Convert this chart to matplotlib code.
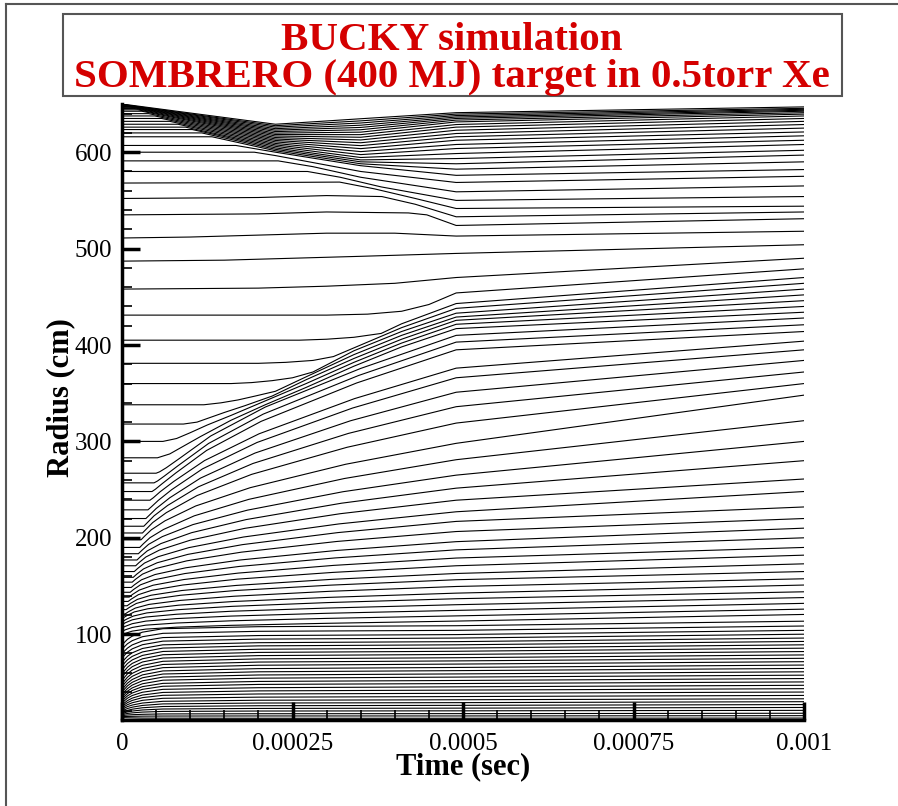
import matplotlib
matplotlib.use("Agg")
import matplotlib.pyplot as plt
from matplotlib.ticker import MultipleLocator, FixedLocator
from matplotlib.patches import Rectangle
from matplotlib.lines import Line2D

plt.rcParams['font.family'] = ['Liberation Serif', 'DejaVu Serif']

US = 1e-6  # times below are in microseconds, radii in cm

# inner zones (target debris and gas right next to it), shared sample times
core_t = [0, 3, 8, 15, 30, 60, 200, 490, 1000]
core_r = [
    [13.5, 13.4, 13.3, 13.2, 13, 12.9, 12.8, 12.8, 13],
    [14.5, 14.6, 14.7, 14.8, 15, 15.1, 15.2, 15.2, 15.5],
    [15.5, 15.8, 16.2, 16.5, 16.9, 17.3, 17.5, 17.6, 18],
    [16.5, 17.1, 17.8, 18.4, 19.2, 19.9, 20.3, 20.5, 21],
    [17.5, 18.4, 19.4, 20.3, 21.4, 22.4, 23, 23.3, 24],
    [18.5, 19.7, 21, 22.2, 23.7, 25, 25.8, 26.2, 27],
    [20, 21.4, 22.9, 24.3, 26.1, 27.7, 28.6, 29, 30],
    [21.5, 23.1, 24.9, 26.5, 28.6, 30.4, 31.5, 32, 33],
    [23, 24.8, 26.9, 28.9, 31.4, 33.5, 34.7, 35.3, 36.5],
    [24.5, 26.6, 29, 31.3, 34.2, 36.6, 38, 38.7, 40],
    [26, 28.4, 31.1, 33.7, 36.9, 39.6, 41.2, 42, 43.5],
    [28, 30.6, 33.6, 36.4, 39.8, 42.8, 44.5, 45.4, 47],
    [30, 32.8, 36, 39, 42.8, 46, 47.9, 48.8, 50.5],
    [32, 35, 38.4, 41.6, 45.6, 49, 51, 52, 54],
    [34, 37.2, 40.9, 44.3, 48.6, 52.3, 54.4, 55.5, 57.5],
    [36.5, 39.8, 43.6, 47.2, 51.7, 55.5, 57.7, 58.8, 61],
    [39, 42.5, 46.4, 50.1, 54.8, 58.7, 61, 62.2, 64.5],
    [41.5, 45.1, 49.2, 53, 57.8, 61.9, 64.3, 65.5, 68],
    [44.5, 48.2, 52.3, 56.3, 61.2, 65.3, 67.8, 69, 71.5],
    [47.5, 51.2, 55.4, 59.4, 64.4, 68.6, 71.1, 72.3, 75],
    [51, 54.7, 58.9, 62.8, 67.7, 71.9, 74.4, 75.6, 78.5],
    [54.5, 58.2, 62.3, 66.3, 71.2, 75.3, 77.8, 79, 82],
    [58, 61.6, 65.8, 69.7, 74.5, 78.7, 81.1, 82.3, 85.5],
    [62, 65.5, 69.6, 73.3, 78, 82.1, 84.4, 85.6, 89],
    [66, 69.5, 73.4, 77, 81.6, 85.6, 87.9, 89, 92.5],
    [70, 73.3, 77.1, 80.7, 85.2, 89, 91.2, 92.3, 96],
    [74.5, 77.7, 81.4, 84.8, 89.1, 92.8, 94.9, 96, 100],
    [79, 82.1, 85.6, 88.9, 93, 96.5, 98.6, 99.6, 104],
    [83.5, 86.6, 90.1, 93.3, 97.4, 100.9, 103, 104, 108.5],
    [88, 91.1, 94.7, 98, 102.1, 105.7, 107.8, 108.8, 113.5],
]

# xenon gas zones overtaken by the blast wave
gas_t = [
    [0, 5, 15, 35, 80, 160, 300, 490, 1000],
    [0, 5, 15, 35, 80, 160, 300, 490, 1000],
    [0, 5, 15, 35, 80, 160, 300, 490, 1000],
    [0, 5, 15, 35, 80, 160, 300, 490, 1000],
    [0, 1.5, 6.5, 16.5, 36.5, 81.5, 161.5, 301.5, 490, 1000],
    [0, 3, 8, 18, 38, 83, 163, 303, 490, 1000],
    [0, 4.5, 9.5, 19.5, 39.5, 84.5, 164.5, 304.5, 490, 1000],
    [0, 6, 11, 21, 41, 86, 166, 306, 490, 1000],
    [0, 7.5, 12.5, 22.5, 42.5, 87.5, 167.5, 307.5, 490, 1000],
    [0, 9, 14, 24, 44, 89, 169, 309, 490, 1000],
    [0, 10.5, 15.5, 25.5, 45.5, 90.5, 170.5, 310.5, 490, 1000],
    [0, 12, 17, 27, 47, 92, 172, 312, 490, 1000],
    [0, 13.5, 18.5, 28.5, 48.5, 93.5, 173.5, 313.5, 490, 1000],
    [0, 15, 20, 30, 50, 95, 175, 315, 490, 1000],
    [0, 16.5, 21.5, 31.5, 51.5, 96.5, 176.5, 316.5, 490, 1000],
    [0, 18, 23, 33, 53, 98, 178, 318, 490, 1000],
    [0, 20, 25, 35, 55, 100, 180, 320, 490, 1000],
    [0, 22, 27, 37, 57, 102, 182, 322, 490, 1000],
    [0, 24, 29, 39, 59, 104, 184, 324, 490, 1000],
    [0, 26, 31, 41, 61, 106, 186, 326, 490, 1000],
    [0, 28, 33, 43, 63, 108, 188, 328, 490, 1000],
    [0, 30, 35, 45, 65, 110, 190, 330, 490, 1000],
    [0, 32, 37, 47, 67, 112, 192, 332, 490, 1000],
    [0, 35, 40, 50, 70, 115, 195, 335, 490, 1000],
    [0, 38, 43, 53, 73, 118, 198, 338, 490, 1000],
    [0, 41, 46, 56, 76, 121, 201, 341, 490, 1000],
    [0, 44, 49, 59, 79, 124, 204, 344, 490, 1000],
    [0, 47, 52, 62, 82, 127, 207, 347, 490, 1000],
    [0, 50, 55, 65, 85, 130, 210, 350, 490, 1000],
]
gas_r = [
    [99.5, 100.9, 103.2, 105.3, 107.3, 109.2, 111.3, 113.6, 120.5],
    [103, 104.6, 107, 109.4, 111.6, 113.9, 116.4, 119, 126],
    [106.5, 108.2, 110.9, 113.6, 116.2, 118.8, 121.7, 124.7, 132],
    [110, 111.9, 114.9, 117.8, 120.7, 123.8, 127.1, 130.6, 138],
    [113.5, 113.5, 115.5, 118.8, 122.1, 125.4, 128.9, 132.8, 136.8, 144],
    [117.5, 117.5, 119.6, 123.1, 126.4, 130.1, 133.9, 138.2, 142.6, 151],
    [121, 121, 123.3, 127.1, 130.9, 135, 139.4, 144.5, 149.5, 157.5],
    [125.5, 125.5, 127.9, 131.9, 135.9, 140.4, 145.3, 150.9, 156.5, 165],
    [129.5, 129.5, 132, 136.1, 140.4, 145.3, 150.6, 156.9, 163, 173],
    [134, 134, 136.6, 141, 145.6, 151, 157.1, 164.1, 171, 182],
    [138.5, 138.5, 141.3, 145.8, 150.8, 156.7, 163.4, 171.4, 179, 190],
    [143.5, 143.5, 146.4, 151.2, 156.4, 162.9, 170.3, 179.1, 187.5, 200],
    [148.5, 148.5, 151.4, 156.4, 161.9, 168.9, 177, 186.8, 196, 210],
    [154, 154, 157.1, 162.3, 168.2, 176.1, 185.1, 196.2, 206.5, 220],
    [159, 159, 162.2, 167.7, 174.1, 182.8, 192.9, 205.4, 217, 232],
    [165, 165, 168.2, 173.8, 180.4, 189.8, 200.8, 214.4, 227, 248],
    [171, 171, 174.3, 180.1, 187.3, 197.5, 209.8, 225, 239, 261],
    [177, 177, 180.4, 186.4, 194, 205.3, 218.9, 235.9, 251.5, 280],
    [183.5, 183.5, 186.9, 193.2, 201.2, 213.7, 228.7, 247.8, 265, 300],
    [190, 190, 193.6, 200.1, 208.7, 222.8, 239.9, 261.5, 281, 321.5],
    [198, 198, 201.6, 208.3, 217.6, 233, 252, 276.3, 298, 348],
    [205, 205, 208.6, 215.8, 226.1, 243.8, 265.8, 293.9, 319, 360],
    [212, 212, 215.6, 222.8, 233.6, 252.9, 277.1, 308.3, 336, 372],
    [220, 220, 223.4, 230.3, 241.5, 261.9, 287.9, 321.4, 351, 384],
    [229, 229, 232.1, 238.7, 250, 271.5, 298.9, 334.6, 366, 395],
    [239, 239, 241.6, 247.8, 258.5, 280.1, 307.9, 344.4, 376, 404],
    [248, 248, 250.4, 256.2, 267.3, 290.6, 320.8, 360.6, 395, 414],
    [257, 257, 258.9, 264, 274.7, 297.9, 328.3, 368.4, 403, 421],
    [267, 267, 268.4, 272.7, 282.7, 305.6, 335.6, 375.7, 410, 428],
]

# zones swept into the dense shell
shell_t = [
    [0, 52, 70, 90, 115, 160, 210, 270, 340, 410, 490, 1000],
    [0, 60, 80, 100, 125, 160, 210, 270, 340, 410, 490, 1000],
    [0, 90, 110, 130, 150, 180, 220, 270, 340, 410, 490, 1000],
    [0, 120, 145, 170, 195, 225, 270, 340, 410, 490, 1000],
    [0, 160, 190, 220, 250, 280, 340, 410, 490, 1000],
    [0, 200, 240, 280, 310, 340, 410, 490, 1000],
    [0, 260, 300, 340, 380, 410, 490, 1000],
    [0, 300, 360, 410, 450, 490, 1000],
    [0, 200, 300, 400, 490, 1000],
    [0, 150, 250, 350, 490, 1000],
    [0, 100, 200, 300, 400, 490, 1000],
]
shell_r = [
    [283, 283, 287, 295, 305, 322, 338, 356, 378, 398, 417, 434],
    [300, 300, 303, 309, 317, 327, 342, 360, 382, 402, 421.5, 440],
    [318, 318, 320, 325, 330, 337, 347, 364, 386, 406, 425.6, 446],
    [338, 338, 340, 343, 347, 352, 367, 390, 410, 429, 452],
    [360, 360, 361, 363, 366, 372, 394, 414, 433, 458],
    [381, 381, 382, 384, 388, 397, 418, 438, 464],
    [405, 405, 406, 408, 412, 422, 443, 470],
    [431, 431, 432, 435, 442, 454, 479],
    [458, 459, 461, 464, 470, 490],
    [487, 488, 490, 492, 495, 504],
    [511, 512, 514, 516, 516, 513, 518],
]

# outer zones near the chamber wall (wave running inward from the wall)
wall_t = [
    [0, 225, 350, 490, 1000],
    [0, 225, 350, 490, 1000],
    [0, 3, 225, 350, 490, 1000],
    [0, 5, 225, 350, 490, 1000],
    [0, 7, 225, 350, 490, 1000],
    [0, 10, 225, 350, 490, 1000],
    [0, 14, 225, 350, 490, 1000],
    [0, 18, 225, 350, 490, 1000],
    [0, 23, 225, 350, 490, 1000],
    [0, 29, 225, 350, 490, 1000],
    [0, 39, 225, 350, 490, 1000],
    [0, 48, 225, 350, 490, 1000],
    [0, 58, 225, 350, 490, 1000],
    [0, 70, 225, 350, 490, 1000],
    [0, 82, 225, 350, 490, 1000],
    [0, 93, 225, 350, 490, 1000],
    [0, 103, 225, 350, 490, 1000],
    [0, 117, 225, 350, 490, 1000],
    [0, 132, 225, 350, 490, 1000],
    [0, 167, 225, 350, 490, 1000],
    [0, 194, 225, 350, 490, 1000],
    [0, 229, 280, 350, 490, 1000],
    [0, 272, 320, 380, 490, 1000],
    [0, 200, 319, 370, 430, 490, 1000],
    [0, 200, 300, 381, 430, 490, 1000],
    [0, 200, 300, 420, 447, 490, 1000],
]
wall_r = [
    [650, 629, 634.7, 641, 647],
    [649.6, 627.5, 632.5, 639.5, 645.5],
    [649.2, 649.2, 626, 630.3, 638, 644.5],
    [648.7, 648.7, 624.4, 628, 636.5, 643.5],
    [648.1, 648.1, 622.9, 625.7, 635, 642.5],
    [647.4, 647.4, 621.4, 623.3, 633.3, 641],
    [646.5, 646.5, 619.8, 620.8, 631.4, 639.5],
    [645.4, 645.4, 618.3, 618.2, 628.7, 637.6],
    [644, 644, 616.8, 615.5, 626, 635],
    [642.5, 642.5, 615.2, 612.7, 622.8, 632],
    [640, 640, 613.7, 609.8, 619.4, 628.7],
    [637.6, 637.6, 612.2, 606.8, 616, 625],
    [635, 635, 610.7, 603.7, 612.4, 621],
    [632, 632, 609.1, 600.6, 608, 617],
    [629, 629, 607.6, 597.5, 603.8, 612.4],
    [626, 626, 606.1, 594.5, 598.6, 608],
    [623.5, 623.5, 604.5, 592, 593.4, 602],
    [620, 620, 603, 590, 588, 597],
    [616, 616, 601.5, 588, 582.4, 590],
    [607, 607, 600, 586, 576, 582],
    [600, 600, 596.5, 580, 568.6, 575],
    [591, 591, 585, 574, 558.9, 565],
    [580, 580, 574, 564, 550, 554],
    [568, 568.5, 569, 562, 552, 541.6, 544],
    [552, 553, 555, 554, 546, 533, 538],
    [535, 536, 538, 537, 535, 524, 531],
]

x_ticks = [0, 0.00025, 0.0005, 0.00075, 0.001]
x_labels = ['0', '0.00025', '0.0005', '0.00075', '0.001']
y_ticks = [100, 200, 300, 400, 500, 600]

fig = plt.figure(figsize=(8.98, 8.06), dpi=100)
ax = fig.add_axes([122 / 898, 1 - 720 / 806, 682 / 898, 616 / 806])

for r in core_r:
    ax.plot([t * US for t in core_t], r, color='black', lw=0.8)
for times, radii in zip(gas_t + shell_t + wall_t, gas_r + shell_r + wall_r):
    ax.plot([t * US for t in times], radii, color='black', lw=0.8)

ax.set_xlim(0, 0.001)
ax.set_ylim(11, 650)
ax.spines['top'].set_visible(False)
ax.spines['right'].set_visible(False)
ax.spines['left'].set_linewidth(2.5)
ax.spines['bottom'].set_linewidth(2.5)

ax.xaxis.set_major_locator(FixedLocator(x_ticks))
ax.set_xticklabels(x_labels)
ax.xaxis.set_minor_locator(MultipleLocator(0.00005))
ax.yaxis.set_major_locator(FixedLocator(y_ticks))
ax.yaxis.set_minor_locator(MultipleLocator(20))
ax.tick_params(which='major', direction='in', length=13, width=2.5, labelsize=18)
ax.tick_params(axis='x', which='major', pad=9)
ax.tick_params(axis='y', which='major', pad=7)
ax.tick_params(which='minor', direction='in', length=7, width=1.2)

fig.text(463 / 898, 1 - 767 / 806, 'Time (sec)', ha='center', va='center',
         fontsize=22, fontweight='bold')
fig.text(61 / 898, 1 - 398 / 806, 'Radius (cm)', ha='center', va='center',
         rotation=90, fontsize=22, fontweight='bold')

# title box
fig.patches.append(Rectangle((63 / 898, 1 - 96 / 806), 779 / 898, 82 / 806,
                             transform=fig.transFigure, facecolor='white',
                             edgecolor='#555555', lw=1.5))
fig.text(452 / 898, 1 - 50 / 806, 'BUCKY simulation', ha='center', va='baseline',
         fontsize=29.5, fontweight='bold', color='#d40000')
fig.text(452 / 898, 1 - 87 / 806, 'SOMBRERO (400 MJ) target in 0.5torr Xe',
         ha='center', va='baseline', fontsize=29.5, fontweight='bold', color='#d40000')

# page frame
fig.lines.append(Line2D([6 / 898, 6 / 898], [0, 1 - 4 / 806], transform=fig.transFigure,
                        color='#555555', lw=1.5))
fig.lines.append(Line2D([6 / 898, 1], [1 - 4 / 806, 1 - 4 / 806], transform=fig.transFigure,
                        color='#555555', lw=1.5))

fig.savefig('out.png', dpi=100)
